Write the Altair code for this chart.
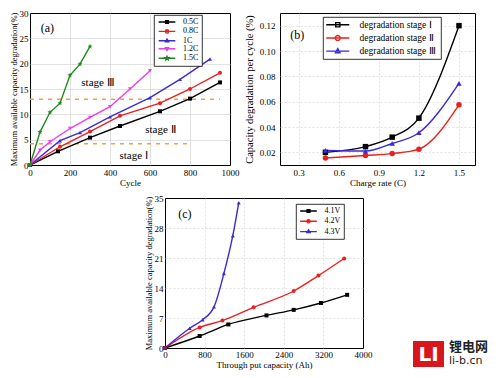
import math
import altair as alt
import pandas as pd

FONT = "Liberation Serif"

# ---------------- panel (a): degradation vs cycle ----------------
a_names = ["0.5C", "0.8C", "1C", "1.2C", "1.5C"]
a_colors = ["#000000", "#ec1f1f", "#3b2bd6", "#ee3cee", "#1f8a1f"]
cyc_05 = [0, 140, 300, 450, 650, 800, 950]
deg_05 = [0, 2.7, 5.4, 7.7, 10.6, 13.1, 16.3]
cyc_08 = [0, 150, 300, 450, 650, 800, 950]
deg_08 = [0, 3.6, 6.6, 9.7, 12.2, 15.0, 18.2]
cyc_10 = [0, 150, 250, 400, 600, 750, 900]
deg_10 = [0, 4.8, 6.4, 9.5, 13.3, 16.9, 20.9]
cyc_12 = [0, 50, 100, 200, 300, 400, 500, 600]
deg_12 = [0, 2.9, 4.6, 7.2, 9.4, 11.5, 15.0, 18.6]
cyc_15 = [0, 50, 100, 150, 200, 250, 300]
deg_15 = [0, 6.5, 10.4, 12.2, 17.7, 19.9, 23.4]
a_xticks = [0, 200, 400, 600, 800, 1000]
a_yticks = [0, 5, 10, 15, 20, 25, 30]
stage_bound_y = [4.2, 13.0]
stage_bound_start = [0, 0]
stage_bound_end = [800, 950]
stage_text = ["stage \u2162", "stage \u2161", "stage \u2160"]
stage_text_x = [340, 652, 518]
stage_text_y = [16.2, 7.0, 1.8]

# ---------------- panel (b): degradation per cycle vs charge rate ----------------
b_names = ["degradation stage  \u2160", "degradation stage  \u2161", "degradation stage  \u2162"]
b_colors = ["#000000", "#ec1f1f", "#3b2bd6"]
b_rates = [0.5, 0.8, 1.0, 1.2, 1.5]
b_stage1 = [0.0200, 0.0245, 0.0320, 0.0470, 0.1200]
b_stage2 = [0.0155, 0.0175, 0.0190, 0.0225, 0.0575]
b_stage3 = [0.0215, 0.0210, 0.0270, 0.0355, 0.0745]
b_xticks = [0.3, 0.6, 0.9, 1.2, 1.5]
b_yticks = [0.02, 0.04, 0.06, 0.08, 0.10, 0.12]

# ---------------- panel (c): degradation vs throughput ----------------
c_names = ["4.1V", "4.2V", "4.3V"]
c_colors = ["#000000", "#ec1f1f", "#3b2bd6"]
ah_41 = [0, 700, 1280, 2050, 2600, 3150, 3680]
deg_41 = [0, 2.8, 5.5, 7.6, 8.9, 10.5, 12.4]
ah_42 = [0, 700, 1160, 1790, 2600, 3100, 3620]
deg_42 = [0, 4.8, 6.4, 9.5, 13.3, 16.9, 20.9]
ah_43 = [0, 500, 760, 990, 1190, 1370, 1490]
deg_43 = [0, 4.6, 6.6, 9.6, 17.4, 26.2, 33.9]
c_xticks = [0, 800, 1600, 2400, 3200, 4000]
c_yticks = [0, 7, 14, 21, 28, 35]

panel_labels = ["(a)", "(b)", "(c)"]
panel_label_x = [87, 0.29, 400]
panel_label_y = [27.1, 0.1127, 31.3]


def long_df(names, xs_list, ys_list):
    rows = []
    for n, xs, ys in zip(names, xs_list, ys_list):
        for x, y in zip(xs, ys):
            rows.append({"series": n, "x": x, "y": y})
    return pd.DataFrame(rows)


# ---- marker path helpers (style only) ----
SQ = [(-1, -1), (1, -1), (1, 1), (-1, 1)]
TU = [(0, -1.2), (1.1, 0.75), (-1.1, 0.75)]
TD = [(0, 1.2), (1.1, -0.75), (-1.1, -0.75)]
STAR = []
for i in range(10):
    ang = -math.pi / 2 + i * math.pi / 5
    rad = 1.0 if i % 2 == 0 else 0.45
    STAR.append((rad * math.cos(ang), rad * math.sin(ang)))


def poly(pts, s):
    return "M" + "L".join(f"{x * s:.3f},{y * s:.3f}" for x, y in pts) + "Z"


def circ(r):
    return f"M{r:.3f},0A{r:.3f},{r:.3f},0,1,1,{-r:.3f},0A{r:.3f},{r:.3f},0,1,1,{r:.3f},0Z"


def marker(kind, m):
    if kind == "square":
        return poly(SQ, m)
    if kind == "circle":
        return circ(m * 1.15)
    if kind == "tu":
        return poly(TU, m)
    if kind == "td":
        return poly(TD, m)
    return poly(STAR, m * 1.4)


def leg_sym(kind, half_line, m):
    return f"M{-half_line:.3f},0H{half_line:.3f}" + marker(kind, m)


VIS = {"square": "square", "circle": "circle", "tu": "triangle-up",
       "td": "triangle-down", "star": poly(STAR, 1.3)}


def axis(title, values, edges, fmt=None, dash=None, title_size=9, lab_pad=3, title_pad=2):
    lo, hi = edges
    kw = dict(values=values, tickCount=len(values), title=title, grid=True,
              gridColor="#d6d6d6", gridWidth=0.7, ticks=False, domain=False,
              gridOpacity={"condition": {"test": f"datum.value <= {lo} || datum.value >= {hi}",
                                         "value": 0}, "value": 1},
              labelFont=FONT, labelFontSize=9, labelColor="black", titleFont=FONT,
              titleFontSize=title_size, titleFontWeight="normal",
              titleColor="black", labelPadding=lab_pad, titlePadding=title_pad,
              labelOverlap=False, labelFlush=False, format=fmt)
    if dash:
        kw["gridDash"] = dash
    return alt.Axis(**kw)


def panel(df, names, colors, kinds, xenc, yenc, vis_size, leg_cfg, interp="linear"):
    cscale = alt.Scale(domain=names, range=colors)
    lines = alt.Chart(df).mark_line(strokeWidth=1.4, interpolate=interp).encode(
        x=xenc, y=yenc, color=alt.Color("series:N", scale=cscale, legend=None))
    pts = alt.Chart(df).mark_point(filled=True, opacity=1, size=vis_size).encode(
        x=xenc, y=yenc,
        color=alt.Color("series:N", scale=cscale, legend=None),
        shape=alt.Shape("series:N", scale=alt.Scale(domain=names, range=[VIS[k] for k in kinds]),
                        legend=None))
    r, half_line, m, leg = leg_cfg
    lpaths = [leg_sym(k, half_line / r, (m - 0.7) / r) for k in kinds]
    legend_layer = alt.Chart(df).transform_filter("false").mark_point(
        filled=False, opacity=1, size=(2 * r) ** 2, strokeWidth=1.4).encode(
        color=alt.Color("series:N", scale=alt.Scale(domain=names, range=colors), legend=leg),
        shape=alt.Shape("series:N", scale=alt.Scale(domain=names, range=lpaths), legend=leg))
    return lines, pts, legend_layer


def make_legend(x, y, font_size, sym_size, sym_off, lab_off, row_pad):
    return alt.Legend(orient="none", legendX=x, legendY=y, title=None,
                      direction="vertical", padding=3, strokeColor="black",
                      fillColor="white", labelFont=FONT, labelFontSize=font_size,
                      labelColor="black", symbolSize=sym_size, symbolStrokeWidth=1.4,
                      symbolOffset=sym_off, labelOffset=lab_off, rowPadding=row_pad)


IND = dict(color="independent", shape="independent")

# ===== panel (a) =====
df_a = long_df(a_names, [cyc_05, cyc_08, cyc_10, cyc_12, cyc_15],
               [deg_05, deg_08, deg_10, deg_12, deg_15])
xa = alt.X("x:Q", scale=alt.Scale(domain=[0, 1000], nice=False),
           axis=axis("Cycle", a_xticks, (0, 1000), fmt="d", title_pad=1.5))
ya = alt.Y("y:Q", scale=alt.Scale(domain=[0, 30], nice=False),
           axis=axis("Maximum available capacity degradation(%)", a_yticks, (0, 30), fmt="d",
                     title_size=8.5, lab_pad=2, title_pad=1))
leg_a = make_legend(124, 2, 8, 36, 6, 12, -0.6)
la, pa, lga = panel(df_a, a_names, a_colors, ["square", "circle", "tu", "td", "star"],
                    xa, ya, 16, (3, 8.3, 2.1, leg_a))
df_rules = pd.DataFrame({"y": stage_bound_y, "x": stage_bound_start, "x2": stage_bound_end})
rules_a = alt.Chart(df_rules).mark_rule(color="#f0a046", strokeDash=[4, 5], strokeWidth=1.5).encode(
    x=xa, x2="x2:Q", y=ya)
df_stage = pd.DataFrame({"t": stage_text, "x": stage_text_x, "y": stage_text_y})
text_a = alt.Chart(df_stage).mark_text(font=FONT, fontSize=11, color="black").encode(
    x=xa, y=ya, text="t:N")
df_pl_a = pd.DataFrame({"t": [panel_labels[0]], "x": [panel_label_x[0]], "y": [panel_label_y[0]]})
plab_a = alt.Chart(df_pl_a).mark_text(font=FONT, fontSize=12, color="black").encode(
    x=xa, y=ya, text="t:N")
chart_a = alt.layer(rules_a, la, pa, text_a, plab_a, lga).resolve_scale(**IND).properties(
    width=200, height=152)

# ===== panel (b) =====
df_b = long_df(b_names, [b_rates] * 3, [b_stage1, b_stage2, b_stage3])
xb = alt.X("x:Q", scale=alt.Scale(domain=[0.16, 1.62], nice=False),
           axis=axis("Charge rate (C)", b_xticks, (0.16, 1.62), fmt=".1f", dash=[2, 2],
                     title_pad=1.5))
yb = alt.Y("y:Q", scale=alt.Scale(domain=[0.01, 0.13], nice=False),
           axis=axis("Capacity degradation per cycle (%)", b_yticks, (0.01, 0.13), fmt=".2f",
                     dash=[2, 2], title_size=10.5, lab_pad=5, title_pad=5))
leg_b = make_legend(43, 4, 9.5, 49, 7, 17, 2.2)
lb, pb, lgb = panel(df_b, b_names, b_colors, ["square", "circle", "tu"], xb, yb, 30,
                    (3.5, 11.5, 2.8, leg_b), interp="monotone")
df_pl_b = pd.DataFrame({"t": [panel_labels[1]], "x": [panel_label_x[1]], "y": [panel_label_y[1]]})
plab_b = alt.Chart(df_pl_b).mark_text(font=FONT, fontSize=12, color="black").encode(
    x=xb, y=yb, text="t:N")
chart_b = alt.layer(lb, pb, plab_b, lgb).resolve_scale(**IND).properties(width=195, height=152)

# ===== panel (c) =====
df_c = long_df(c_names, [ah_41, ah_42, ah_43], [deg_41, deg_42, deg_43])
xc = alt.X("x:Q", scale=alt.Scale(domain=[0, 4000], nice=False),
           axis=axis("Through put capacity (Ah)", c_xticks, (0, 4000), fmt="d", dash=[2, 2],
                     lab_pad=2, title_pad=1))
yc = alt.Y("y:Q", scale=alt.Scale(domain=[0, 35], nice=False),
           axis=axis("Maximum available capacity degradation(%)", c_yticks, (0, 35), fmt="d",
                     dash=[2, 2], title_size=8.5, lab_pad=2, title_pad=1))
leg_c = make_legend(131, 6, 8, 36, 5.5, 12, 0.3)
lc, pc, lgc = panel(df_c, c_names, c_colors, ["square", "circle", "tu"], xc, yc, 16,
                    (3, 8.3, 2.1, leg_c), interp="monotone")
df_pl_c = pd.DataFrame({"t": [panel_labels[2]], "x": [panel_label_x[2]], "y": [panel_label_y[2]]})
plab_c = alt.Chart(df_pl_c).mark_text(font=FONT, fontSize=12, color="black").encode(
    x=xc, y=yc, text="t:N")

# site logo (decoration, outside the plot)
one = pd.DataFrame({"k": [0]})
logo_rect = alt.Chart(one).mark_rect(color="#d9161c").encode(
    x=alt.value(248), x2=alt.value(279), y=alt.value(143), y2=alt.value(169))
logo_li = alt.Chart(one).mark_text(text="LI", color="white", font="DejaVu Sans",
                                   fontSize=20, fontWeight="bold").encode(
    x=alt.value(263.5), y=alt.value(156.5))
logo_cn = alt.Chart(one).mark_text(text="锂电网", color="#222222", font="Noto Sans CJK SC",
                                   fontSize=13, fontWeight="bold", align="left").encode(
    x=alt.value(284), y=alt.value(149))
logo_url = alt.Chart(one).mark_text(text="li-b.cn", color="#222222", font="DejaVu Sans",
                                    fontSize=11, align="left").encode(
    x=alt.value(284), y=alt.value(163))

chart_c = alt.layer(lc, pc, plab_c, lgc, logo_rect, logo_li, logo_cn, logo_url).resolve_scale(
    **IND).properties(width=198, height=150)

spacer = alt.Chart(one).mark_point(opacity=0).properties(
    width=112, height=10, view=alt.ViewBackground(stroke="transparent"))

row1 = alt.hconcat(chart_a, chart_b, spacing=3).resolve_scale(**IND)
row2 = alt.hconcat(spacer, chart_c, spacing=0).resolve_scale(**IND)
chart = alt.vconcat(row1, row2, spacing=5).resolve_scale(**IND).properties(
    padding={"left": 0, "top": 0, "right": 0, "bottom": 0}
).configure(font=FONT).configure_view(stroke="black", strokeWidth=1).configure_legend(
    strokeWidth=0.8, labelFont=FONT)

chart.save("out.html", embed_options={"renderer": "svg", "actions": False})
